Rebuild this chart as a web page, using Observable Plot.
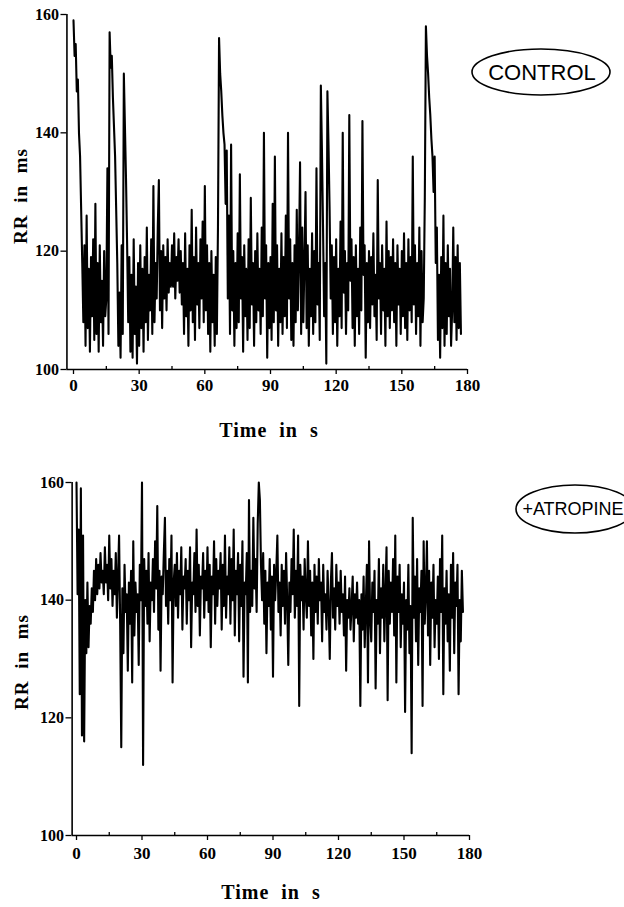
<!DOCTYPE html>
<html><head><meta charset="utf-8">
<script src="https://cdn.jsdelivr.net/npm/d3@7"></script>
<script src="https://cdn.jsdelivr.net/npm/@observablehq/plot@0.6"></script>
<style>
body{margin:0;background:#fff;}
#chart svg{display:block;}
</style></head><body><div id="chart"></div>
<script>
// sampling interval of the RR series (s)
const dt = 0.5;
const xTicks = [0, 30, 60, 90, 120, 150, 180];
const xMinorTicks = [15, 45, 75, 105, 135, 165];
const yTicks = [100, 120, 140, 160];
const xLabel = "Time in s";
const yLabel = "RR in ms";
const legendNames = ["CONTROL", "+ATROPINE"];

// RR interval (ms), control recording
const controlRR = [
159,153,155,147,149,140,136,127,118,108,
121,104,126,107,117,103,119,109,122,105,
128,106,118,103,121,108,115,104,120,109,
112,134,106,157,151,153,146,141,136,127,
118,104,113,102,121,106,150,141,132,121,
108,119,103,116,102,122,106,114,101,118,
104,121,107,117,103,119,108,124,105,116,
110,122,106,131,108,118,112,124,132,110,
120,107,121,112,119,110,122,113,118,114,
121,114,123,112,119,115,122,113,120,111,
118,106,123,109,117,104,121,110,127,108,
119,105,124,111,118,107,122,112,125,108,
131,110,121,106,118,103,120,108,116,104,
119,106,124,156,150,147,143,140,138,128,
137,112,126,106,138,110,120,104,118,107,
123,108,133,112,119,103,121,109,117,105,
122,107,129,111,118,104,120,108,123,110,
117,106,124,109,140,112,121,102,118,107,
119,105,128,108,136,110,121,104,117,108,
123,106,119,109,126,107,140,112,122,105,
118,104,121,108,127,110,119,135,106,124,
108,118,130,107,121,104,117,109,123,106,
120,108,134,111,118,105,148,137,124,109,
118,101,147,138,127,112,121,106,119,108,
122,104,117,109,125,107,140,113,120,106,
118,110,143,115,122,107,119,104,121,109,
117,106,124,110,142,116,121,102,118,108,
120,107,119,111,123,109,116,105,132,112,
118,106,121,110,117,104,125,109,120,107,
119,110,122,108,118,104,121,111,117,106,
120,109,123,107,118,105,122,110,119,108,
136,111,121,106,118,109,124,104,120,108,
112,129,158,153,150,146,143,139,136,130,
136,118,124,105,116,102,119,107,126,104,
118,106,121,109,117,104,110,124,108,119,
105,121,107,118,106
];

// RR interval (ms), after atropine
const atropineRR = [
160,141,152,124,159,117,151,116,140,131,
143,132,139,136,142,138,145,140,147,141,
146,142,148,143,145,141,149,143,146,140,
151,142,147,139,145,141,148,137,144,151,
136,115,142,131,146,138,141,128,143,136,
145,126,150,134,143,138,141,129,146,140,
160,112,147,139,145,136,148,133,143,140,
147,138,150,142,156,135,145,128,144,141,
148,154,139,145,136,147,140,151,126,143,
146,139,148,137,145,141,149,135,144,142,
147,136,145,140,149,132,143,141,148,138,
152,139,146,134,144,142,148,137,145,140,
149,138,146,132,144,141,150,136,147,139,
145,142,148,135,146,139,151,137,144,141,
149,136,147,140,152,134,145,141,148,133,
146,139,150,127,143,141,148,126,157,138,
145,139,154,142,147,138,153,160,157,146,
140,148,136,145,131,143,139,147,135,144,
127,146,140,145,151,138,143,134,146,139,
145,136,148,140,129,143,138,147,141,152,
137,145,139,151,122,146,140,144,135,147,
141,137,150,139,145,134,143,130,146,138,
144,136,147,140,143,133,146,138,141,135,
145,139,130,143,148,137,142,135,146,139,
143,136,145,138,141,134,144,128,140,137,
142,135,139,144,133,141,137,143,136,140,
122,141,135,144,132,139,146,126,150,137,
133,143,138,145,125,140,136,147,131,142,
137,146,133,141,149,123,145,136,143,138,
147,134,151,126,144,138,146,132,141,136,
143,121,140,135,146,131,139,114,154,137,
144,133,147,129,142,138,145,122,150,136,
141,150,134,145,129,143,137,146,132,140,
136,144,130,147,138,151,124,142,136,145,
133,141,128,146,137,148,131,143,139,146,
124,140,133,145,138
];

const serif = "'Liberation Serif','Times New Roman',serif";
const sans = "'Liberation Sans',Arial,Helvetica,sans-serif";

function makePanel(values, legend, L) {
  const data = values.map((v, i) => ({t: i * dt, rr: v}));
  const svg = Plot.plot({
    width: 624,
    height: L.height,
    marginLeft: L.left,
    marginRight: 624 - L.right,
    marginTop: L.top,
    marginBottom: L.height - L.bottom,
    style: {background: "white", color: "black", fontFamily: serif},
    x: {domain: [0, 180]},
    y: {domain: [100, 160]},
    marks: [
      Plot.line(data, {x: "t", y: "rr", stroke: "black", strokeWidth: 2.1, strokeLinejoin: "round"}),
      Plot.ruleY([100], {x1: L.axisX, x2: 180, stroke: "black", strokeWidth: 1.6}),
      Plot.ruleX([L.axisX], {y1: 100, y2: 160, stroke: "black", strokeWidth: 1.6}),
      Plot.ruleX(xMinorTicks, {y1: 100, y2: 100.5, stroke: "black", strokeWidth: 1.3}),
      Plot.axisX({ticks: xTicks, tickSize: 5, tickPadding: L.xPad, fontSize: 17, fontWeight: "bold", label: null, strokeWidth: 1.3}),
      Plot.axisY({ticks: yTicks, tickSize: 6, tickPadding: 2, dx: L.yDx, fontSize: 16, fontWeight: "bold", label: null, strokeWidth: 1.3})
    ]
  });
  const s = d3.select(svg);
  // axis titles
  s.append("text")
    .attr("x", L.xTitleX).attr("y", L.xTitleY)
    .attr("text-anchor", "middle")
    .style("font", `bold 20px ${serif}`)
    .style("word-spacing", "6px").style("letter-spacing", "1px")
    .attr("fill", "black")
    .text(xLabel);
  s.append("text")
    .attr("transform", `translate(${L.yTitleX},${L.yTitleY}) rotate(-90)`)
    .attr("text-anchor", "middle")
    .attr("dominant-baseline", "central")
    .style("font", `bold 19px ${serif}`)
    .style("word-spacing", "6px").style("letter-spacing", "1px")
    .attr("fill", "black")
    .text(yLabel);
  // legend in ellipse
  s.append("ellipse")
    .attr("cx", L.lx).attr("cy", L.ly).attr("rx", L.lrx).attr("ry", L.lry)
    .attr("fill", "none").attr("stroke", "black").attr("stroke-width", 1.6);
  s.append("text")
    .attr("x", L.tx).attr("y", L.ly)
    .attr("text-anchor", "middle").attr("dominant-baseline", "central")
    .style("font", `${L.lfs}px ${sans}`)
    .attr("fill", "black")
    .text(legend);
  return svg;
}

const chart = document.getElementById("chart");
chart.appendChild(makePanel(controlRR, legendNames[0], {
  height: 453, left: 73, right: 467, top: 14, bottom: 369,
  axisX: -3, yDx: -6.5, xPad: 4,
  xTitleX: 269, xTitleY: 437, yTitleX: 20, yTitleY: 196,
  lx: 541, ly: 72, lrx: 69, lry: 23, tx: 542, lfs: 22
}));
chart.appendChild(makePanel(atropineRR, legendNames[1], {
  height: 454, left: 76, right: 469, top: 29, bottom: 382,
  axisX: -2, yDx: -4.5, xPad: 6,
  xTitleX: 271, xTitleY: 446, yTitleX: 21, yTitleY: 209,
  lx: 575, ly: 56, lrx: 59, lry: 24, tx: 573, lfs: 18
}));
</script></body></html>
